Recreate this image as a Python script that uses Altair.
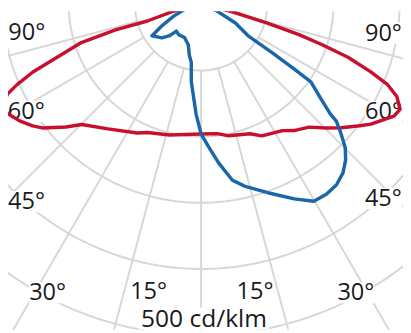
import altair as alt
import numpy as np
import pandas as pd

# ---------------- data (luminous intensity, cd/klm, vs gamma angle in degrees; left half negative)
red_angle = [-90, -76, -72.8, -73.4, -72.3, -69.2, -68.1, -66.4, -65.1, -62.8, -60.7, -57.3, -54.2,
             -52.1, -47.8, -44.8, -36.8, -26.4, -22.8, -13.5, 0, 7.3, 11.8, 20.7, 24.8, 32.8, 36.4,
             41.3, 45.4, 48.6, 52.6, 54.8, 59.9, 62.2, 64.8, 66.7, 68.3, 70.2, 71.6, 72.8, 74.2, 76.9, 90]
red_value = [0, 43, 85, 135, 190, 246, 274, 304, 323, 336, 336, 326, 314,
             304, 276, 256, 235, 217, 210, 203, 196, 197, 203, 209, 219, 227, 237,
             247, 266, 282, 302, 314, 337, 340, 327, 307, 276, 236, 192, 155, 103, 46, 0]

blue_angle = [-90, -75, -66.8, -61.2, -57.4, -49.6, -45, -42.8, -36.6, -26.6, -17.6, -13, -9.6, -7.2,
              -2.6, 0, 3.1, 6.3, 10.1, 13.6, 19.5, 25.6, 29.8, 33.4, 36.9, 40.1, 42.9, 45.2, 47.7,
              49.2, 49.7, 51.8, 54.8, 55.2, 55.8, 56.3, 61.5, 68, 90]
blue_value = [0, 23, 45, 68, 88, 78, 67, 55, 57, 56, 64, 79, 89, 118,
              166, 196, 216, 241, 270, 283, 302, 326, 343, 344, 341, 333, 321, 307, 284,
              270, 256, 230, 203, 171, 129, 85, 59, 24, 0]

grid_radii = [100, 200, 300, 400, 500]
grid_angles = [-90, -75, -60, -45, -30, -15, 0, 15, 30, 45, 60, 75, 90]

angle_labels = ["90°", "60°", "45°", "30°", "15°", "15°", "30°", "45°", "60°", "90°"]
scale_label = "500 cd/klm"

# ---------------- layout (placement of the labels in polar terms: angle, radius)
label_pos_angle = [-78.3, -56.7, -40.4, -27.4, -10.08, 10.36, 27.6, 42.1, 57.8, 78.75]
label_pos_radius = [269, 316, 407, 504, 453, 453.3, 505, 411, 326, 281]
scale_pos = (0.52, 487)
FS_DEG, FS_SCALE = 24, 25

S = 0.675          # px per cd/klm
CX, CY = 205, 1    # page position of the pole
W, H = 403, 325
x_dom = [(8 - CX) / S, (8 + W - CX) / S]
y_dom = [(CY - 8 - H) / S, (CY - 8) / S]


def to_xy(a, r):
    t = np.radians(np.asarray(a, dtype=float))
    r = np.asarray(r, dtype=float)
    return r * np.sin(t), -r * np.cos(t)


xs = alt.Scale(domain=x_dom, nice=False, zero=False)
ys = alt.Scale(domain=y_dom, nice=False, zero=False)

# curves
rows = []
for name, A, V in [("C90", red_angle, red_value), ("C0", blue_angle, blue_value)]:
    x, y = to_xy(A, V)
    for i in range(len(A)):
        rows.append({"series": name, "i": i, "x": x[i], "y": y[i]})
curves = pd.DataFrame(rows)

# grid circles
crow = []
arc = np.arange(-90, 90.5, 1.0)
for r in grid_radii:
    x, y = to_xy(arc, np.full(arc.shape, r))
    for i in range(len(arc)):
        crow.append({"r": r, "i": i, "x": x[i], "y": y[i]})
circles = pd.DataFrame(crow)

# radial lines
x1, y1 = to_xy(grid_angles, [grid_radii[0]] * len(grid_angles))
x2, y2 = to_xy(grid_angles, [900] * len(grid_angles))
radials = pd.DataFrame({"x": x1, "y": y1, "x2": x2, "y2": y2})

lx, ly = to_xy(label_pos_angle, label_pos_radius)
sx, sy = to_xy([scale_pos[0]], [scale_pos[1]])
texts = angle_labels + [scale_label]
sizes = [FS_DEG] * len(angle_labels) + [FS_SCALE]
labels = pd.DataFrame({"t": texts, "x": list(lx) + list(sx), "y": list(ly) + list(sy), "fs": sizes})
# white knock-out boxes behind the labels (grid lines stop at the text)
half_w = [len(t) * 0.53 * f / 2 / S for t, f in zip(texts, sizes)]
labels["bx1"] = labels["x"] - half_w
labels["bx2"] = labels["x"] + half_w
labels["by1"] = labels["y"] - 0.12 * labels["fs"] / S
labels["by2"] = labels["y"] + 0.78 * labels["fs"] / S

GRID = "#d7d7d7"
X = alt.X("x:Q", scale=xs, axis=None)
Y = alt.Y("y:Q", scale=ys, axis=None)

circle_layer = alt.Chart(circles).mark_line(color=GRID, strokeWidth=2, clip=True).encode(
    x=X, y=Y, detail="r:N", order="i:Q")
radial_layer = alt.Chart(radials).mark_rule(color=GRID, strokeWidth=2, clip=True).encode(
    x=X, y=Y, x2="x2:Q", y2="y2:Q")

boxes = alt.Chart(labels).mark_rect(color="white", clip=True).encode(
    x=alt.X("bx1:Q", scale=xs, axis=None), x2="bx2:Q",
    y=alt.Y("by1:Q", scale=ys, axis=None), y2="by2:Q")

deg_text = alt.Chart(labels[labels.t != scale_label]).mark_text(
    font="Open Sans", fontSize=FS_DEG, align="center", baseline="alphabetic", color="#1a1a1a").encode(
    x=X, y=Y, text="t:N")
scale_text = alt.Chart(labels[labels.t == scale_label]).mark_text(
    font="Open Sans", fontSize=FS_SCALE, align="center", baseline="alphabetic", color="#1a1a1a").encode(
    x=X, y=Y, text="t:N")

red_layer = alt.Chart(curves[curves.series == "C90"]).mark_line(
    color="#c8102e", strokeWidth=3.5, strokeJoin="round", strokeCap="round", clip=True).encode(
    x=X, y=Y, order="i:Q")
blue_layer = alt.Chart(curves[curves.series == "C0"]).mark_line(
    color="#1a66a8", strokeWidth=3.5, strokeJoin="round", strokeCap="round", clip=True).encode(
    x=X, y=Y, order="i:Q")

chart = alt.layer(circle_layer, radial_layer, boxes, deg_text, scale_text, red_layer, blue_layer).properties(
    width=W, height=H, padding=0, autosize=alt.AutoSizeParams(type="none"), background="white"
).configure_view(stroke=None)

chart.save("out.html", embed_options={"renderer": "svg", "actions": False})
